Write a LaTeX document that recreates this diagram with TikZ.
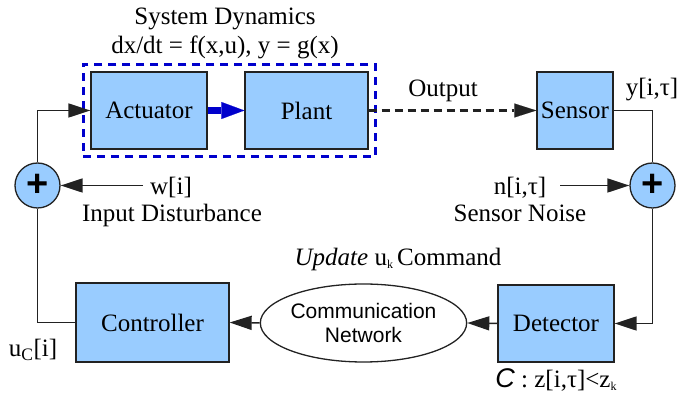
\documentclass[tikz,border=0pt]{standalone}
\usepackage{fontspec}
\setmainfont{Liberation Serif}
\setsansfont{Liberation Sans}
\usetikzlibrary{arrows.meta,shapes.geometric,fit}
\definecolor{boxfill}{HTML}{99CCFF}
\definecolor{dashblue}{RGB}{0,0,204}
\definecolor{edge}{HTML}{222222}
\newcommand{\tinysub}[1]{\raisebox{-3pt}{\fontsize{12}{12}\selectfont #1}}
\begin{document}
\begin{tikzpicture}[x=1pt,y=-1pt,
  every node/.style={font=\fontsize{25}{28}\selectfont},
  blk/.style={draw=edge, line width=1.3pt, fill=boxfill, inner sep=0pt},
  sumnode/.style={circle, draw=edge, line width=1.3pt, fill=boxfill, minimum size=45pt, inner sep=0pt, font=\sffamily\bfseries\fontsize{38}{38}\selectfont},
  lbl/.style={inner sep=0pt, anchor=base},
  wire/.style={draw=edge, line width=1.5pt},
  arr/.style={wire, -{Triangle[length=22pt,width=14pt]}}
]
\useasboundingbox (0,0) rectangle (681,403);

% blocks
\node[blk, minimum width=116pt, minimum height=77pt] (act) at (149,110.5) {Actuator};
\node[blk, minimum width=123pt, minimum height=77pt] (plant) at (306.5,110.5) {Plant};
\node[blk, minimum width=76pt, minimum height=77pt] (sens) at (575,110.5) {Sensor};
\node[blk, minimum width=153pt, minimum height=79pt] (ctrl) at (152.5,322.5) {Controller};
\node[blk, minimum width=116pt, minimum height=77pt] (det) at (556,323.5) {Detector};
\node[ellipse, draw=edge, line width=1.3pt, minimum width=191pt, minimum height=78pt, inner sep=0pt,
      font=\sffamily\fontsize{21}{24}\selectfont, align=center] (net) at (363.5,323) {Communication\\Network};
\node[sumnode] (sumL) at (37.5,185.5) {+};
\node[sumnode] (sumR) at (652.5,185.5) {+};

% system dynamics frame
\node[draw=dashblue, line width=3pt, dash pattern=on 8pt off 6pt, fit=(act)(plant), inner sep=7pt] (sys) {};

% labels
\node[lbl] (t1) at (225,25) {System Dynamics};
\node[lbl] (t2) at (225,54) {dx/dt = f(x,u), y = g(x)};
\node[lbl] (out) at (443,97) {Output};
\node[lbl] (ylab) at (652,96) {y[i,τ]};
\node[lbl] (nlab) at (520,195) {n[i,τ]};
\node[lbl] (snoise) at (520,222) {Sensor Noise};
\node[lbl] (wlab) at (171,195) {w[i]};
\node[lbl] (idist) at (172,222) {Input Disturbance};
\node[lbl] (uclab) at (33,357) {u\textsubscript{C}[i]};
\node[lbl] (upd) at (398,266) {\textit{Update} u\tinysub{k}\,Command};
\node[lbl] (clab) at (556,388) {{\sffamily\itshape\fontsize{27}{28}\selectfont C} : z[i,τ]<z\tinysub{k}};

\coordinate (wstart) at (143,185.5);
\coordinate (nstart) at (560,185.5);

% connectors
\draw[arr] (sumL.north) |- (act.west);
\draw[wire] (ctrl.west) -| (sumL.south);
\draw[arr] (wstart) -- (sumL.east);
\draw[dashblue, line width=6.5pt, -{Triangle[length=23pt,width=17pt,line width=0.1pt]}] (act.east) -- (plant.west);
\draw[edge, line width=2.5pt, dash pattern=on 8pt off 5pt, -{Triangle[length=22pt,width=14pt,line width=0.1pt]}] (plant.east) -- (sens.west);
\draw[wire] (sens.east) -| (sumR.north);
\draw[arr] (nstart) -- (sumR.west);
\draw[arr] (sumR.south) |- (det.east);
\draw[arr] (det.west) -- (net.east);
\draw[arr] (net.west) -- (ctrl.east);
\end{tikzpicture}
\end{document}
